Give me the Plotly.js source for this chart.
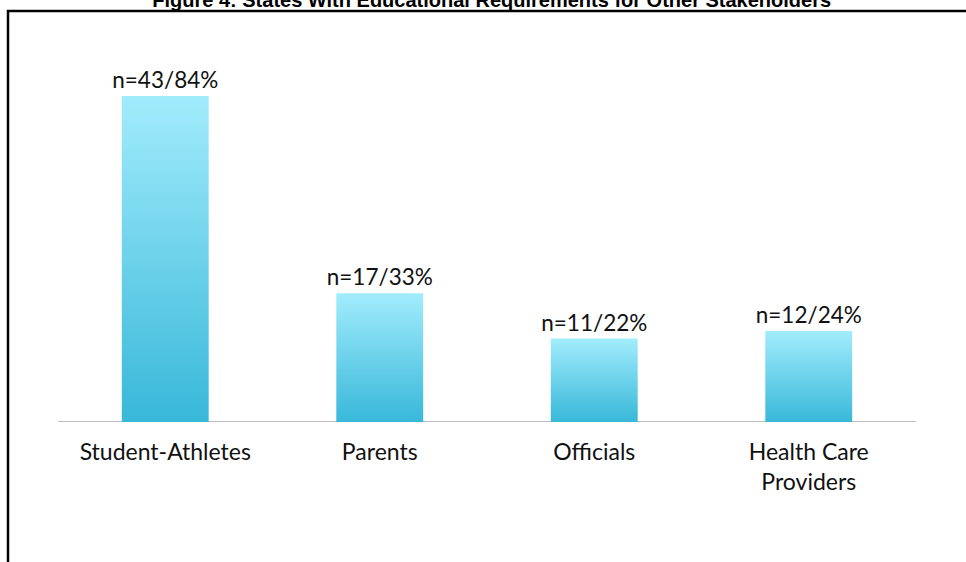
<!DOCTYPE html>
<html>
<head>
<meta charset="utf-8">
<script src="https://cdn.plot.ly/plotly-3.0.1.min.js"></script>
<style>html,body{margin:0;padding:0;background:#fff;}#chart{width:966px;height:562px;}</style>
</head>
<body>
<div id="chart"></div>
<script>
const categories = ["Student-Athletes", "Parents", "Officials", "Health Care<br>Providers"];
const counts = [43, 17, 11, 12];
const percents = [84, 33, 22, 24];
const labels = counts.map((n, i) => "n=" + n + "/" + percents[i] + "%");

const W = 966, H = 562;
const M = {l: 58, r: 50, t: 43, b: 140};
const pw = W - M.l - M.r, ph = H - M.t - M.b;

const font = "Lato, 'Open Sans', sans-serif";

const trace = {
  type: "bar",
  x: categories,
  y: counts,
  text: labels,
  textposition: "outside",
  constraintext: "none",
  cliponaxis: false,
  textfont: {family: font, size: 22.5, color: "#111"},
  marker: {color: "#6ad2ee", line: {width: 0}},
  width: 0.405,
  hoverinfo: "skip"
};

const layout = {
  width: W, height: H,
  margin: M,
  paper_bgcolor: "#fff", plot_bgcolor: "#fff",
  showlegend: false,
  title: {
    text: "<b>Figure 4: States With Educational Requirements for Other Stakeholders</b>",
    font: {family: "Liberation Sans, Arial, sans-serif", size: 20, color: "#000"},
    xref: "container", yref: "container", x: 0.509, y: 1, xanchor: "center", yanchor: "middle"
  },
  xaxis: {
    showgrid: false, zeroline: false, showline: false, ticks: "",
    tickfont: {family: font, size: 23, color: "#111"},
    ticklabelstandoff: 14,
    fixedrange: true
  },
  yaxis: {
    range: [0, 50], visible: false, showgrid: false, zeroline: false, fixedrange: true
  },
  shapes: [
    {type: "line", xref: "paper", yref: "y", x0: 0, x1: 1, y0: 0, y1: 0,
     line: {color: "#a8a8a8", width: 1.5}, layer: "below"},
    {type: "rect", xref: "paper", yref: "paper",
     x0: (8 - M.l) / pw, x1: (W + 10 - M.l) / pw,
     y0: -(H + 10 - M.t - ph) / ph, y1: 1 + (M.t - 11) / ph,
     line: {color: "#000", width: 2.5}, fillcolor: "rgba(0,0,0,0)", layer: "above"}
  ]
};

Plotly.newPlot("chart", [trace], layout, {staticPlot: true, displayModeBar: false}).then(function (gd) {
  const svg = gd.querySelector("svg.main-svg");
  const ns = "http://www.w3.org/2000/svg";
  let defs = svg.querySelector("defs");
  if (!defs) { defs = document.createElementNS(ns, "defs"); svg.insertBefore(defs, svg.firstChild); }
  const g = document.createElementNS(ns, "linearGradient");
  g.setAttribute("id", "barGrad");
  g.setAttribute("x1", "0"); g.setAttribute("y1", "0");
  g.setAttribute("x2", "0"); g.setAttribute("y2", "1");
  [["0", "#a2ecfc"], ["1", "#38b8d9"]].forEach(function (s) {
    const st = document.createElementNS(ns, "stop");
    st.setAttribute("offset", s[0]);
    st.setAttribute("stop-color", s[1]);
    g.appendChild(st);
  });
  defs.appendChild(g);
  gd.querySelectorAll(".barlayer .point path").forEach(function (p) {
    p.style.fill = "url(#barGrad)";
  });
});
</script>
</body>
</html>
